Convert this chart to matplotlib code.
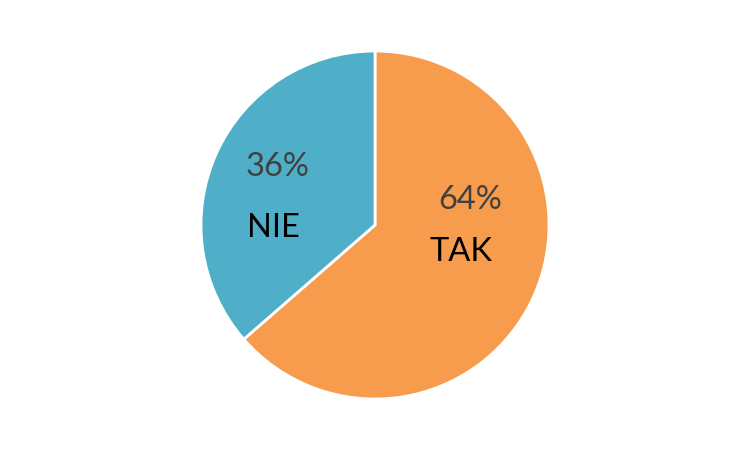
import matplotlib.pyplot as plt

labels = ['TAK', 'NIE']
values = [63.6, 36.4]
colors = ['#F79C4C', '#4FAFC8']

# text anchor points (pixel coords, y from top) for the percentage and the label
pct_pos = [(470, 200), (277, 167)]
lab_pos = [(461, 252), (273, 228)]

fig = plt.figure(figsize=(7.51, 4.5), dpi=100)
ax = fig.add_axes([0, 0, 1, 1])

ax.pie(values, colors=colors, startangle=90, counterclock=False,
       center=(375, 225), radius=174, frame=True,
       wedgeprops=dict(edgecolor='white', linewidth=2))
ax.set_xlim(0, 751)
ax.set_ylim(0, 450)
ax.set_aspect('equal')
ax.axis('off')

for v, lab, p, l in zip(values, labels, pct_pos, lab_pos):
    ax.text(p[0], 450 - p[1], f'{round(v)}%', fontsize=23.5, color='#404040',
            family='Lato', ha='center', va='center')
    ax.text(l[0], 450 - l[1], lab, fontsize=23.5, color='black',
            family='Lato', ha='center', va='center')

plt.savefig('out.png', dpi=100)
